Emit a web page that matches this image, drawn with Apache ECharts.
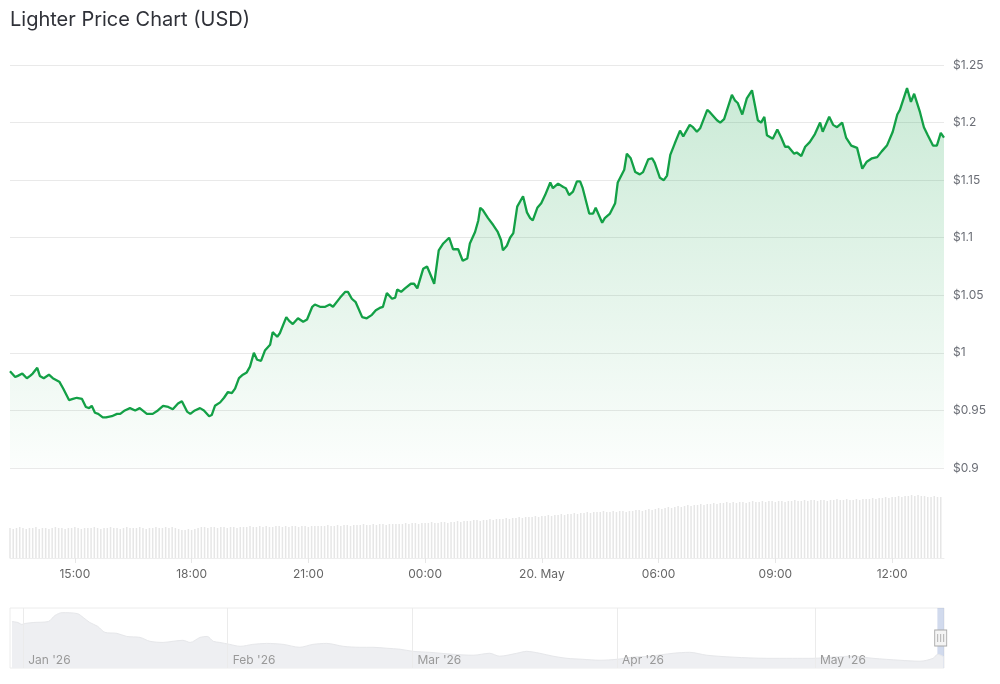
<!DOCTYPE html>
<html><head><meta charset="utf-8">
<script src="https://cdn.jsdelivr.net/npm/echarts@6/dist/echarts.min.js"></script>
<style>html,body{margin:0;padding:0;background:#fff}#c{width:1000px;height:684px}</style>
</head><body><div id="c"></div>
<script>
// minutes since 19 May 00:00 (1440 = 20 May 00:00)
const minutes = [800,803,808,812,819,822,826,831,835,842,846,852,860,866,876,882,891,897,903,911,917,922,926,931,936,943,948,957,965,970,977,985,993,1000,1011,1020,1028,1036,1044,1051,1059,1065,1073,1078,1085,1093,1099,1107,1111,1116,1124,1130,1136,1142,1147,1153,1159,1165,1170,
1176,1181,1187,1193,1201,1205,1212,1216,1226,1230,1236,1244,1252,1258,1266,1270,1278,1286,1293,1298,1309,1317,1321,1327,1333,1343,1350,1358,1364,1370,1375,1381,1389,1394,1397,1403,1409,1418,1423,1428,1437,1443,1449,1454,1461,1468,1477,1483,1491,1498,1505,1509,1517,1522,
1525,1529,1537,1545,1552,1557,1560,1566,1571,1576,1582,1591,1597,1602,1606,1613,1619,1625,1633,1637,1645,1653,1657,1662,1668,1674,1679,1683,1693,1699,1703,1713,1717,1725,1733,1737,1747,1751,1757,1764,1771,1776,1784,1790,1794,1802,1808,1813,1818,1825,1833,1838,1848,1853,1859,1864,1875,1879,1890,1895,1901,
1913,1918,1922,1929,1936,1944,1947,1953,1958,1963,1967,1976,1983,1989,1995,2000,2009,2013,2020,2026,2033,2041,2044,2049,2053,2063,2069,2075,2083,2089,2097,2106,2114,2121,2129,2137,2144,2152,2161,2168,2172,2183,2189,2194,2203,2209,2215,2223,2229,2235,2240];
const prices = [0.984,0.983,0.979,0.980,0.982,0.981,0.978,0.980,0.982,0.987,0.980,0.978,0.981,0.978,0.975,0.969,0.959,0.960,0.961,0.960,0.953,0.952,0.954,0.948,0.947,0.944,0.944,0.945,0.947,0.947,0.950,0.952,0.950,0.952,0.947,0.947,0.950,0.954,0.953,0.951,0.956,0.958,0.949,0.947,0.950,0.952,0.950,0.945,0.946,0.954,0.957,0.961,0.966,0.965,0.969,0.978,0.981,0.983,0.988,
1.000,0.994,0.993,1.002,1.007,1.018,1.014,1.017,1.031,1.028,1.025,1.030,1.027,1.029,1.040,1.042,1.040,1.040,1.042,1.040,1.048,1.053,1.053,1.047,1.044,1.031,1.030,1.033,1.037,1.039,1.040,1.052,1.047,1.048,1.055,1.053,1.056,1.060,1.060,1.056,1.073,1.075,1.067,1.060,1.089,1.095,1.100,1.090,1.090,1.080,1.082,1.095,1.105,1.115,
1.126,1.124,1.117,1.111,1.105,1.098,1.089,1.093,1.100,1.104,1.127,1.136,1.122,1.117,1.115,1.126,1.130,1.137,1.148,1.143,1.147,1.144,1.143,1.137,1.140,1.149,1.149,1.143,1.121,1.121,1.126,1.113,1.117,1.121,1.130,1.148,1.159,1.173,1.169,1.157,1.155,1.157,1.168,1.169,1.165,1.152,1.150,1.154,1.172,1.182,1.193,1.188,1.198,1.196,1.192,1.195,1.211,1.209,1.202,1.200,1.203,
1.224,1.219,1.217,1.207,1.221,1.228,1.227,1.202,1.200,1.205,1.189,1.186,1.194,1.187,1.179,1.179,1.173,1.174,1.171,1.179,1.183,1.190,1.191,1.200,1.192,1.205,1.198,1.196,1.200,1.187,1.180,1.178,1.160,1.166,1.169,1.170,1.175,1.180,1.192,1.207,1.211,1.230,1.218,1.225,1.209,1.196,1.189,1.180,1.180,1.191,1.187];

// 5-minute volume bars from 13:20
const volumeStart = 800, volumeStep = 5;
const volumes = [
30,29,30,31,30,29,30,30,31,29,30,30,29,30,31,30,30,29,30,30,31,30,29,30,
30,30,31,30,29,30,30,31,30,30,29,30,31,30,30,30,31,30,29,30,30,31,30,30,
31,30,31,30,29,28,28,29,28,29,30,31,31,30,31,31,30,31,31,30,31,31,30,31,
31,31,32,31,31,32,31,32,31,31,32,32,31,32,31,32,32,31,32,32,31,32,32,32,
32,32,33,32,32,33,32,33,33,32,33,33,33,34,33,33,34,33,34,34,33,34,34,34,
34,34,35,34,35,35,34,35,35,35,36,35,35,36,36,35,36,36,37,36,37,37,37,38,
38,37,38,38,39,38,39,39,39,40,39,40,40,41,40,41,41,41,42,41,42,42,43,42,
43,43,44,43,44,44,45,44,45,45,46,45,46,46,46,47,46,46,47,46,47,47,46,47,
47,48,48,47,48,49,48,49,50,49,50,51,50,51,52,51,52,53,52,53,53,54,53,54,
54,55,54,55,55,56,55,56,55,56,56,55,56,57,56,56,57,56,57,57,56,57,57,56,
57,57,58,57,57,58,57,58,58,57,58,58,57,58,58,59,58,58,59,58,58,59,58,59,
59,59,60,59,60,60,61,60,61,61,62,61,62,62,63,62,63,62,62,61,61,62,61,61];

const timeTickValues = [900,1080,1260,1440,1620,1800,1980,2160];
const timeTickLabels = ['15:00','18:00','21:00','00:00','20. May','06:00','09:00','12:00'];
const priceTicks = ['$0.9','$0.95','$1','$1.05','$1.1','$1.15','$1.2','$1.25'];

// navigator: days since 1 Jan 2026
const navDays = [-1.7,-0.8,-0.2,0.3,1.5,3.8,4.8,5.9,8.2,9.1,10.1,11.3,12.4,14.2,15.7,17.7,19.2,21.2,22.7,24.2,25.3,26.8,27.9,28.8,29.8,31.3,32.9,34.8,36.9,39.4,41.9,43.9,46.0,48.5,51.0,53.0,55.1,57.1,59.1,61.6,65.1,68.2,70.7,72.2,74.8,76.3,78.3,80.3,82.4,84.8,87.4,90.0,92.4,95.0,98.5,101.0,103.6,107.6,112.7,116.6,119.7,122.7,125.7,128.8,132.9,135.9,137.9,138.6,139.5];
const navPrices = [3.00,2.95,2.85,2.90,2.95,3.00,3.31,3.46,3.41,3.21,2.95,2.75,2.44,2.39,2.23,2.18,1.98,1.92,1.98,2.03,1.92,2.18,2.23,1.98,1.92,1.82,1.72,1.82,1.87,1.82,1.67,1.82,1.87,1.72,1.67,1.67,1.62,1.57,1.46,1.41,1.31,1.26,1.36,1.21,1.36,1.46,1.36,1.21,1.10,1.05,1.00,1.05,1.16,1.21,1.36,1.41,1.26,1.16,1.10,1.10,1.10,1.16,1.21,1.10,1.00,0.95,1.10,1.31,1.19];
const navMonthDays = [0,31,59,90,120];
const navMonthLabels = ["Jan '26","Feb '26","Mar '26","Apr '26","May '26"];
const selectedRange = [138.556, 139.556];

const FONT = 'Inter, "Noto Sans", sans-serif';
const chart = echarts.init(document.getElementById('c'), null, {renderer: 'canvas'});
const volData = volumes.map((v, i) => [volumeStart + i * volumeStep, v]);
const priceData = minutes.map((m, i) => [m, prices[i]]);
const navData = navDays.map((d, i) => [d, navPrices[i]]);

chart.setOption({
  animation: false,
  backgroundColor: '#ffffff',
  title: {
    text: 'Lighter Price Chart (USD)', left: 5, top: 5,
    textStyle: {fontFamily: FONT, fontSize: 20, fontWeight: 400, color: '#2f3138'}
  },
  grid: [
    {left: 10, right: 56, top: 65, height: 403},
    {left: 10, right: 56, top: 480, height: 78},
    {left: 10, right: 56, top: 608, height: 60, show: true, borderColor: '#ececec', borderWidth: 1, backgroundColor: 'transparent'}
  ],
  xAxis: [
    {gridIndex: 0, type: 'value', min: 800, max: 2240, show: false},
    {gridIndex: 1, type: 'value', min: 800, max: 2240,
      axisLine: {show: true, lineStyle: {color: '#eeeeee'}},
      axisTick: {show: true, length: 5, customValues: timeTickValues, lineStyle: {color: '#e6e6e6'}},
      splitLine: {show: false},
      axisLabel: {customValues: timeTickValues, margin: 10, color: '#666666', fontSize: 12, fontFamily: FONT,
        formatter: v => timeTickLabels[timeTickValues.indexOf(v)] || ''}
    },
    {gridIndex: 2, type: 'value', min: -2, max: 139.556, z: 20,
      axisLine: {show: false}, axisTick: {show: false}, splitLine: {show: false},
      axisLabel: {customValues: navMonthDays, inside: true, align: 'left', margin: 2, padding: [0,0,0,5],
        color: '#999999', fontSize: 12, fontFamily: FONT,
        formatter: v => navMonthLabels[navMonthDays.indexOf(v)] || ''}
    }
  ],
  yAxis: [
    {gridIndex: 0, type: 'value', position: 'right', min: 0.9, max: 1.25, interval: 0.05,
      axisLine: {show: false}, axisTick: {show: false},
      splitLine: {lineStyle: {color: '#e9e9e9', width: 1}},
      axisLabel: {margin: 9, color: '#6b6e76', fontSize: 12, fontFamily: FONT,
        formatter: v => priceTicks[Math.round((v - 0.9) / 0.05)]}
    },
    {gridIndex: 1, type: 'value', min: 0, max: 78, show: false},
    {gridIndex: 2, type: 'value', min: 0.6, max: 3.7, show: false}
  ],
  series: [
    {
      type: 'bar', xAxisIndex: 1, yAxisIndex: 1, data: volData, barWidth: 1.5,
      itemStyle: {color: '#e6e6e6'}, silent: true
    },
    {
      type: 'line', xAxisIndex: 0, yAxisIndex: 0, data: priceData,
      showSymbol: false, smooth: false,
      lineStyle: {color: '#13a046', width: 2.3},
      areaStyle: {color: new echarts.graphic.LinearGradient(0, 0, 0, 1, [
        {offset: 0, color: 'rgba(22,163,74,0.32)'},
        {offset: 1, color: 'rgba(22,163,74,0.02)'}
      ])}
    },
    {
      type: 'line', xAxisIndex: 2, yAxisIndex: 2, data: navData, z: 1,
      showSymbol: false, smooth: 0.3,
      lineStyle: {color: '#e6e7ea', width: 1},
      areaStyle: {color: '#eeeff2', opacity: 1},
      markLine: {silent: true, symbol: 'none', label: {show: false},
        lineStyle: {color: '#ebebeb', type: 'solid', width: 1},
        data: navMonthDays.map(d => ({xAxis: d}))},
      markArea: {silent: true, itemStyle: {color: 'rgba(102,133,194,0.3)'},
        data: [[{xAxis: selectedRange[0]}, {xAxis: selectedRange[1]}]]},
      markPoint: {silent: true, label: {show: false},
        data: [
          {coord: [(selectedRange[0] + selectedRange[1]) / 2, 2.15], symbol: 'rect', symbolSize: [12, 16],
            itemStyle: {color: '#f4f4f4', borderColor: '#a8a8a8', borderWidth: 1}},
          {coord: [(selectedRange[0] + selectedRange[1]) / 2, 2.15], symbol: 'path://M0,0L0,8M3,0L3,8M6,0L6,8', symbolSize: [6, 8],
            itemStyle: {color: 'none', borderColor: '#a8a8a8', borderWidth: 1}}
        ]}
    }
  ]
});
</script>
</body></html>
